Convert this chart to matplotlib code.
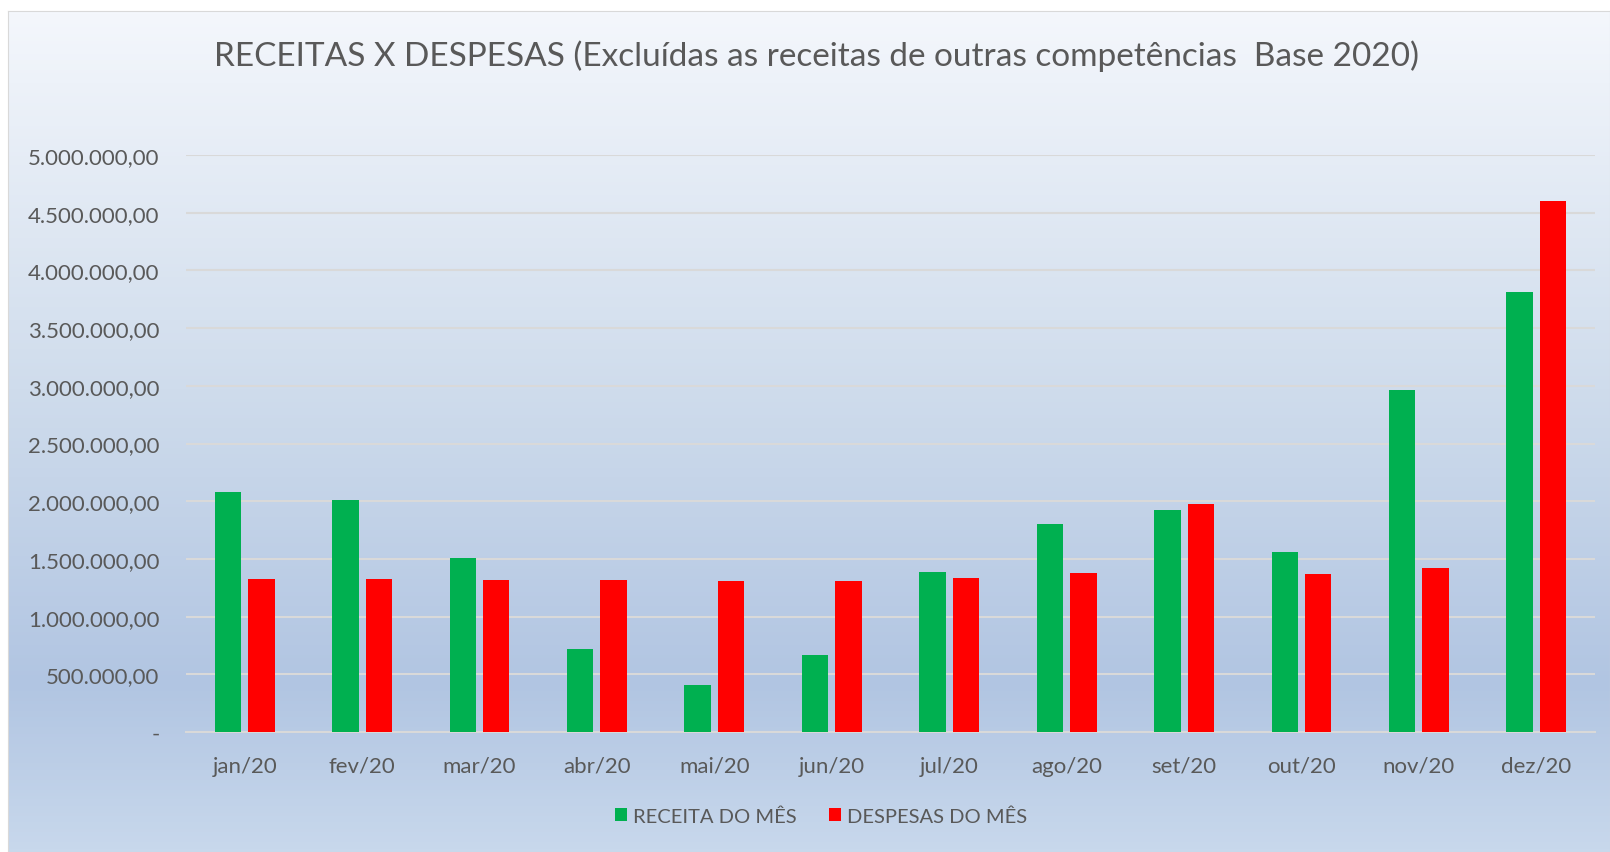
import numpy as np
import matplotlib
matplotlib.use("Agg")
import matplotlib.pyplot as plt
from matplotlib.colors import LinearSegmentedColormap
from matplotlib.ticker import FuncFormatter

plt.rcParams['font.family'] = ['Lato', 'DejaVu Sans']

meses = ['jan/20', 'fev/20', 'mar/20', 'abr/20', 'mai/20', 'jun/20',
         'jul/20', 'ago/20', 'set/20', 'out/20', 'nov/20', 'dez/20']
receita = [2080000, 2010000, 1505000, 715000, 410000, 665000,
           1390000, 1800000, 1920000, 1557000, 2960000, 3815000]
despesas = [1326000, 1326000, 1317000, 1317000, 1310000, 1310000,
            1335000, 1380000, 1975000, 1370000, 1420000, 4600000]
yticks = [0, 500000, 1000000, 1500000, 2000000, 2500000,
          3000000, 3500000, 4000000, 4500000, 5000000]

cor_texto = '#595959'

def fmt_br(v, pos=None):
    if v == 0:
        return '-'
    s = f"{v:,.2f}"
    return s.replace(',', 'X').replace('.', ',').replace('X', '.')

fig = plt.figure(figsize=(16.1, 8.53), dpi=100)

# fundo em degrade
bg = fig.add_axes([8/1610, 0, 1 - 8/1610, 1 - 12/853])
grad = LinearSegmentedColormap.from_list('g', [(0.0, '#f4f7fc'), (0.45, '#cfdcec'),
                                               (0.8, '#b1c5e2'), (1.0, '#c8d8ec')])
bg.imshow(np.linspace(0, 1, 256).reshape(-1, 1), aspect='auto', cmap=grad,
          extent=[0, 1, 1, 0])
bg.set_xlim(0, 1)
bg.set_ylim(1, 0)
for s in bg.spines.values():
    s.set_color('#d9d9d9')
bg.set_xticks([])
bg.set_yticks([])
bg.set_zorder(0)

ax = fig.add_axes([186/1610, 1 - 733/853, (1595 - 186)/1610, (733 - 156)/853])
ax.set_zorder(1)
ax.patch.set_alpha(0)

x = np.arange(len(meses))
w = 0.225
gap = 0.06
ax.bar(x - (w + gap)/2, receita, w, color='#00b050', label='RECEITA DO MÊS', zorder=3)
ax.bar(x + (w + gap)/2, despesas, w, color='#ff0000', label='DESPESAS DO MÊS', zorder=3)

ax.set_xlim(-0.5, len(meses) - 0.5)
ax.set_ylim(0, 5000000)
ax.set_yticks(yticks)
ax.yaxis.set_major_formatter(FuncFormatter(fmt_br))
ax.set_xticks(x)
ax.set_xticklabels(meses)
ax.grid(axis='y', color='#d9d9d9', linewidth=1.5, zorder=1)
ax.tick_params(axis='both', length=0, colors=cor_texto, labelsize=16)
ax.tick_params(axis='x', pad=17)
ax.tick_params(axis='y', pad=19)
for s in ['top', 'right', 'left']:
    ax.spines[s].set_visible(False)
ax.spines['bottom'].set_color('#d9d9d9')
ax.spines['bottom'].set_linewidth(1.5)

fig.text(0.507, 0.934, 'RECEITAS X DESPESAS (Excluídas as receitas de outras competências  Base 2020)',
         ha='center', va='center', fontsize=24, color=cor_texto)

leg = fig.legend(loc='center', bbox_to_anchor=(0.510, 1 - 817/853), ncol=2, frameon=False,
                 fontsize=14.5, handlelength=0.6, handleheight=0.6, handletextpad=0.3,
                 columnspacing=1.6)
for t in leg.get_texts():
    t.set_color(cor_texto)

fig.savefig('out.png', dpi=100)
